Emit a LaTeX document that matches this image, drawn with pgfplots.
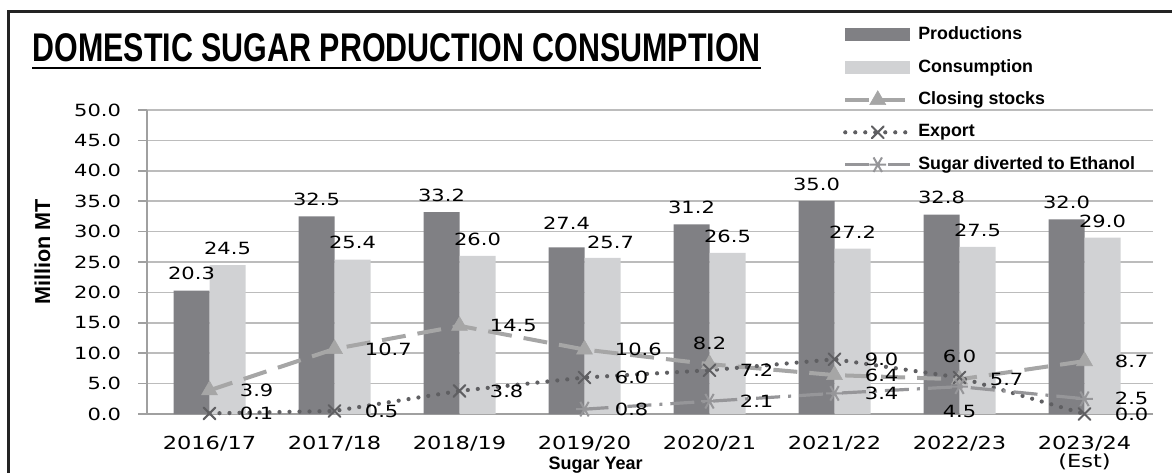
\documentclass[border=0pt]{standalone}
\usepackage{pgfplots}
\pgfplotsset{compat=1.18}
\usepackage{pgfplotstable}
\usepackage{fontspec}
\setmainfont{Liberation Sans}
\newfontfamily\numfont[FakeStretch=1.25]{DejaVu Sans}
\newfontfamily\titlefont[FakeStretch=0.76]{Liberation Sans}

\definecolor{prodc}{RGB}{128,128,132}
\definecolor{consc}{RGB}{209,210,212}
\definecolor{stockc}{RGB}{166,166,166}
\definecolor{expc}{RGB}{95,95,98}
\definecolor{ethc}{RGB}{150,150,153}
\definecolor{gridc}{RGB}{188,188,188}
\definecolor{axisc}{RGB}{160,160,160}
\definecolor{framec}{RGB}{35,35,35}

\pgfplotstableread{
x prod cons
0 20.3 24.5
1 32.5 25.4
2 33.2 26.0
3 27.4 25.7
4 31.2 26.5
5 35.0 27.2
6 32.8 27.5
7 32.0 29.0
}\bardata

\pgfplotstableread{
x y
0 3.9
1 10.7
2 14.5
3 10.6
4 8.2
5 6.4
6 5.7
7 8.7
}\stockdata

\pgfplotstableread{
x y
0 0.1
1 0.5
2 3.8
3 6.0
4 7.2
5 9.0
6 6.0
7 0.0
}\expdata

\pgfplotstableread{
x y
3 0.8
4 2.1
5 3.4
6 4.5
7 2.5
}\ethdata

\tikzset{lblfont/.style={font=\numfont\fontsize{8.4}{10}\selectfont, text=black, inner sep=0pt}}
\pgfplotsset{
  lblbase/.style={forget plot, draw=none, mark=none, point meta=explicit symbolic, nodes near coords},
  lblE/.style={lblbase, nodes near coords style={lblfont, anchor=west, xshift=15pt}},
  lblN/.style={lblbase, nodes near coords style={lblfont, anchor=south, yshift=7pt}},
  lblS/.style={lblbase, nodes near coords style={lblfont, anchor=north, yshift=-9pt}},
  lblBar/.style 2 args={lblbase, nodes near coords style={lblfont, anchor=south, xshift=#1, yshift=#2}},
  lineleg/.style={legend image code/.code={\draw[mark repeat=2,mark phase=2,##1] plot coordinates {(0pt,0pt) (16.25pt,0pt) (32.5pt,0pt)};}},
  barleg/.style={legend image code/.code={\fill[##1] (0pt,-3.2pt) rectangle (32.5pt,3.2pt);}},
}

\begin{document}
\begin{tikzpicture}
\useasboundingbox (0,0) rectangle (586pt,236pt);
% frame
\draw[framec, line width=1.5pt] (4.2pt,-20pt) -- (4.2pt,230.2pt) -- (620pt,230.2pt);
% title
\node[anchor=base west, inner sep=0pt, font=\titlefont\bfseries\fontsize{20}{22}\selectfont] (ttl) at (16.2pt,205.2pt) {DOMESTIC SUGAR PRODUCTION CONSUMPTION};
\draw[black, line width=1pt] ([yshift=-3.4pt]ttl.base west) -- ([yshift=-3.4pt]ttl.base east);

\begin{axis}[
  at={(73.5pt,29pt)}, anchor=south west,
  scale only axis, width=503pt, height=152pt,
  xmin=-0.5, xmax=7.548, ymin=0, ymax=50,
  clip=false,
  axis x line*=bottom, axis y line*=left,
  x axis line style={draw=axisc, line width=1pt},
  y axis line style={draw=axisc, line width=0.8pt},
  ymajorgrids, grid style={draw=gridc, line width=0.75pt},
  ytick={0,5,...,50},
  yticklabels={0.0,5.0,10.0,15.0,20.0,25.0,30.0,35.0,40.0,45.0,50.0},
  xtick={0,...,7},
  xticklabels={2016/17,2017/18,2018/19,2019/20,2020/21,2021/22,2022/23,{2023/24\\(Est)}},
  tick align=outside, major tick length=4.5pt,
  ytick style={draw=axisc, line width=0.75pt},
  xtick style={draw=none},
  yticklabel style={font=\numfont\fontsize{8.4}{10}\selectfont, xshift=-5pt},
  xticklabel style={font=\numfont\fontsize{9}{9.2}\selectfont, align=center, yshift=-3pt},
  xlabel={Sugar Year},
  xlabel style={at={(axis description cs:0.446,-0.181)}, anchor=base, font=\bfseries\fontsize{9}{10}\selectfont},
  ylabel={Million MT},
  ylabel style={at={(axis description cs:-0.0964,0.533)}, anchor=base, font=\bfseries\fontsize{10.8}{12}\selectfont},
  legend cell align=left,
  legend style={at={(0.692,1.2875)}, anchor=north west, draw=none, fill=none,
    inner sep=0pt, outer sep=0pt, row sep=4.4pt,
    font=\bfseries\fontsize{8.9}{10}\selectfont,
    /tikz/every odd column/.append style={column sep=1pt}},
]
\addplot[ybar, bar width=18pt, bar shift=-9pt, fill=prodc, draw=none, barleg]
  table[x=x,y=prod]{\bardata};
\addlegendentry{Productions}
\addplot[ybar, bar width=18pt, bar shift=9pt, fill=consc, draw=none, barleg]
  table[x=x,y=cons]{\bardata};
\addlegendentry{Consumption}

\addplot[stockc, line width=2pt, dash pattern=on 12pt off 6pt, lineleg,
  mark=triangle*, mark size=4.6pt, mark options={solid, fill=stockc, draw=stockc, line width=0.3pt}]
  table[x=x,y=y]{\stockdata};
\addlegendentry{Closing stocks}

\addplot[expc, line width=2.1pt, line cap=round, dash pattern=on 0pt off 5pt, lineleg,
  mark=x, mark size=4.2pt, mark options={solid, draw=expc, line width=1pt}]
  table[x=x,y=y]{\expdata};
\addlegendentry{Export}

\addplot[ethc, line width=1.6pt, dash pattern=on 12pt off 4pt on 1.5pt off 4pt, lineleg,
  mark=asterisk, mark size=4.2pt, mark options={solid, rotate=90, draw=ethc, line width=1pt}]
  table[x=x,y=y]{\ethdata};
\addlegendentry{Sugar diverted to Ethanol}

% data labels of the bars
\addplot[lblBar={-9pt}{5pt}] coordinates {(0,20.3)[20.3] (1,32.5)[32.5] (2,33.2)[33.2] (4,31.2)[31.2] (5,35.0)[35.0] (6,32.8)[32.8] (7,32.0)[32.0]};
\addplot[lblBar={-9pt}{9pt}] coordinates {(3,27.4)[27.4]};
\addplot[lblBar={9pt}{5pt}] coordinates {(0,24.5)[24.5] (1,25.4)[25.4] (2,26.0)[26.0] (4,26.5)[26.5] (5,27.2)[27.2] (6,27.5)[27.5] (7,29.0)[29.0]};
\addplot[lblBar={13pt}{4.5pt}] coordinates {(3,25.7)[25.7]};
% data labels of the line series
\addplot[lblE] coordinates {(0,3.9)[3.9] (1,10.7)[10.7] (2,14.5)[14.5] (3,10.6)[10.6] (5,6.4)[6.4] (6,5.7)[5.7] (7,8.7)[8.7]};
\addplot[lblN] coordinates {(4,8.2)[8.2]};
\addplot[lblE] coordinates {(0,0.1)[0.1] (1,0.5)[0.5] (2,3.8)[3.8] (3,6.0)[6.0] (4,7.2)[7.2] (5,9.0)[9.0] (7,0.0)[0.0]};
\addplot[lblN] coordinates {(6,6.0)[6.0]};
\addplot[lblE] coordinates {(3,0.8)[0.8] (4,2.1)[2.1] (5,3.4)[3.4] (7,2.5)[2.5]};
\addplot[lblS] coordinates {(6,4.5)[4.5]};
\end{axis}
\end{tikzpicture}
\end{document}
